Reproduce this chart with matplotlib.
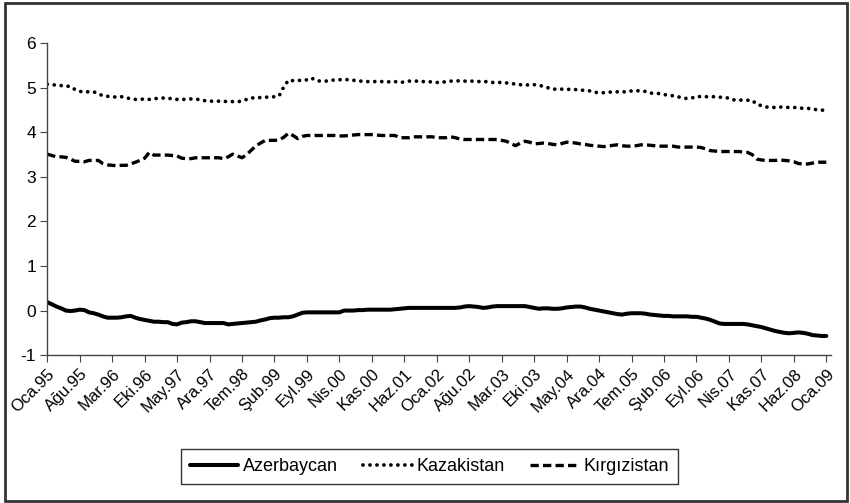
"""Monthly series for Azerbaycan, Kazakistan and Kirgizistan, 1995-2009"""
import matplotlib
matplotlib.use("Agg")
import matplotlib.pyplot as plt
from matplotlib.patches import Rectangle

plt.rcParams['font.family'] = ['Liberation Sans Narrow', 'Liberation Sans', 'DejaVu Sans']
plt.rcParams['axes.unicode_minus'] = False

# month labels shown every 7 months, Oca.95 .. Oca.09
tick_labels = ['Oca.95', 'Ağu.95', 'Mar.96', 'Eki.96', 'May.97', 'Ara.97', 'Tem.98',
               'Şub.99', 'Eyl.99', 'Nis.00', 'Kas.00', 'Haz.01', 'Oca.02', 'Ağu.02',
               'Mar.03', 'Eki.03', 'May.04', 'Ara.04', 'Tem.05', 'Şub.06', 'Eyl.06',
               'Nis.07', 'Kas.07', 'Haz.08', 'Oca.09']

# one value per month, Jan 1995 .. Jan 2009 (rows = years)
azerbaycan = [
    0.19, 0.14, 0.09, 0.05, 0.00, -0.01, 0.00, 0.02, 0.01, -0.04, -0.06, -0.09,
    -0.13, -0.16, -0.16, -0.16, -0.15, -0.13, -0.12, -0.16, -0.19, -0.21, -0.23, -0.25,
    -0.25, -0.26, -0.26, -0.30, -0.31, -0.27, -0.26, -0.24, -0.24, -0.26, -0.28, -0.28,
    -0.28, -0.28, -0.28, -0.31, -0.30, -0.29, -0.28, -0.27, -0.26, -0.25, -0.22, -0.20,
    -0.17, -0.16, -0.16, -0.15, -0.15, -0.13, -0.09, -0.05, -0.04, -0.04, -0.04, -0.04,
    -0.04, -0.04, -0.04, -0.04, 0.00, 0.00, 0.00, 0.01, 0.01, 0.02, 0.02, 0.02,
    0.02, 0.02, 0.02, 0.03, 0.04, 0.05, 0.06, 0.06, 0.06, 0.06, 0.06, 0.06,
    0.06, 0.06, 0.06, 0.06, 0.06, 0.07, 0.09, 0.10, 0.09, 0.08, 0.06, 0.07,
    0.09, 0.10, 0.10, 0.10, 0.10, 0.10, 0.10, 0.10, 0.08, 0.06, 0.04, 0.05,
    0.05, 0.04, 0.04, 0.05, 0.07, 0.08, 0.09, 0.09, 0.07, 0.04, 0.02, 0.00,
    -0.02, -0.04, -0.06, -0.08, -0.09, -0.07, -0.06, -0.06, -0.06, -0.07, -0.09, -0.10,
    -0.11, -0.12, -0.12, -0.13, -0.13, -0.13, -0.13, -0.14, -0.14, -0.16, -0.18, -0.21,
    -0.25, -0.29, -0.30, -0.30, -0.30, -0.30, -0.30, -0.31, -0.33, -0.35, -0.37, -0.40,
    -0.43, -0.46, -0.48, -0.50, -0.51, -0.50, -0.49, -0.50, -0.52, -0.55, -0.56, -0.57,
    -0.57,
]

kazakistan = [
    5.08, 5.07, 5.06, 5.05, 5.04, 5.03, 4.96, 4.92, 4.91, 4.91, 4.91, 4.87,
    4.82, 4.81, 4.80, 4.79, 4.80, 4.78, 4.75, 4.74, 4.74, 4.75, 4.74, 4.75,
    4.77, 4.77, 4.76, 4.76, 4.74, 4.74, 4.74, 4.75, 4.74, 4.74, 4.71, 4.70,
    4.70, 4.70, 4.69, 4.70, 4.69, 4.69, 4.70, 4.74, 4.77, 4.78, 4.78, 4.79,
    4.79, 4.80, 4.82, 5.02, 5.17, 5.16, 5.17, 5.16, 5.18, 5.22, 5.16, 5.15,
    5.15, 5.16, 5.18, 5.18, 5.19, 5.18, 5.17, 5.15, 5.15, 5.14, 5.14, 5.14,
    5.14, 5.14, 5.13, 5.14, 5.12, 5.13, 5.15, 5.15, 5.15, 5.14, 5.14, 5.13,
    5.12, 5.12, 5.14, 5.15, 5.15, 5.16, 5.15, 5.15, 5.15, 5.14, 5.15, 5.13,
    5.12, 5.12, 5.12, 5.11, 5.10, 5.08, 5.07, 5.07, 5.06, 5.07, 5.06, 5.03,
    5.00, 4.97, 4.97, 4.97, 4.97, 4.96, 4.96, 4.95, 4.94, 4.93, 4.90, 4.89,
    4.89, 4.90, 4.91, 4.91, 4.91, 4.91, 4.93, 4.94, 4.92, 4.92, 4.88, 4.88,
    4.87, 4.85, 4.83, 4.82, 4.80, 4.77, 4.76, 4.77, 4.81, 4.80, 4.80, 4.80,
    4.80, 4.79, 4.78, 4.77, 4.73, 4.73, 4.72, 4.72, 4.72, 4.63, 4.60, 4.57,
    4.56, 4.56, 4.57, 4.56, 4.56, 4.56, 4.55, 4.54, 4.54, 4.52, 4.51, 4.50,
    4.49,
]

kirgizistan = [
    3.51, 3.48, 3.45, 3.45, 3.44, 3.40, 3.35, 3.35, 3.34, 3.37, 3.37, 3.37,
    3.30, 3.27, 3.26, 3.25, 3.26, 3.26, 3.29, 3.33, 3.37, 3.42, 3.55, 3.49,
    3.49, 3.49, 3.49, 3.48, 3.47, 3.42, 3.41, 3.41, 3.43, 3.43, 3.43, 3.43,
    3.43, 3.43, 3.41, 3.45, 3.51, 3.47, 3.43, 3.50, 3.60, 3.70, 3.76, 3.82,
    3.82, 3.82, 3.83, 3.89, 3.98, 3.93, 3.86, 3.91, 3.93, 3.93, 3.93, 3.93,
    3.93, 3.93, 3.93, 3.92, 3.92, 3.93, 3.94, 3.95, 3.95, 3.95, 3.95, 3.94,
    3.93, 3.93, 3.93, 3.93, 3.88, 3.88, 3.88, 3.90, 3.90, 3.90, 3.90, 3.90,
    3.88, 3.88, 3.88, 3.90, 3.88, 3.85, 3.84, 3.84, 3.84, 3.84, 3.84, 3.84,
    3.84, 3.84, 3.82, 3.80, 3.75, 3.70, 3.76, 3.80, 3.78, 3.74, 3.75, 3.76,
    3.75, 3.73, 3.72, 3.75, 3.78, 3.77, 3.76, 3.74, 3.73, 3.71, 3.70, 3.69,
    3.68, 3.69, 3.71, 3.72, 3.70, 3.69, 3.69, 3.70, 3.72, 3.72, 3.71, 3.70,
    3.69, 3.69, 3.69, 3.69, 3.67, 3.67, 3.67, 3.67, 3.67, 3.66, 3.63, 3.59,
    3.58, 3.57, 3.57, 3.57, 3.57, 3.57, 3.56, 3.55, 3.50, 3.40, 3.38, 3.37,
    3.37, 3.37, 3.38, 3.37, 3.36, 3.34, 3.30, 3.29, 3.29, 3.31, 3.33, 3.33,
    3.33,
]

months = list(range(len(azerbaycan)))

fig = plt.figure(figsize=(8.5, 5.03), dpi=100)
ax = fig.add_axes([0.0556, 0.294, 0.922, 0.620])

ax.plot(months, azerbaycan, color='black', lw=2.9, solid_capstyle='round',
        solid_joinstyle='round', label='Azerbaycan')
ax.plot(months, kazakistan, color='black', lw=2.7, linestyle=(0, (0.01, 1.85)),
        dash_capstyle='round', label='Kazakistan')
ax.plot(months, kirgizistan, color='black', lw=2.4, linestyle=(0, (2.5, 1.25)),
        label='Kırgızistan')

ax.set_xlim(0, 169)
ax.set_ylim(-1, 6)
ax.set_yticks(range(-1, 7))
ax.set_xticks(months[::7])
ax.set_xticklabels(tick_labels, rotation=45, ha='right', rotation_mode='anchor')

for side in ('top', 'right'):
    ax.spines[side].set_visible(False)
for side in ('left', 'bottom'):
    ax.spines[side].set_color('#444444')
    ax.spines[side].set_linewidth(1.0)
ax.tick_params(axis='both', direction='out', length=5, color='#444444', pad=3)
ax.tick_params(axis='y', labelsize=12.5)
ax.tick_params(axis='x', labelsize=12, pad=3)

leg = fig.legend(loc='center', bbox_to_anchor=(0.505, 0.072), ncol=3, fontsize=13,
                 frameon=True, fancybox=False, edgecolor='black', handlelength=2.7,
                 columnspacing=1.4, handletextpad=0.25, borderpad=0.5)
leg.get_frame().set_linewidth(1.0)

fig.patches.append(Rectangle((0.006, 0.004), 0.990, 0.990, transform=fig.transFigure,
                             fill=False, edgecolor='#333333', lw=2.0))

fig.savefig('out.png', dpi=100)
